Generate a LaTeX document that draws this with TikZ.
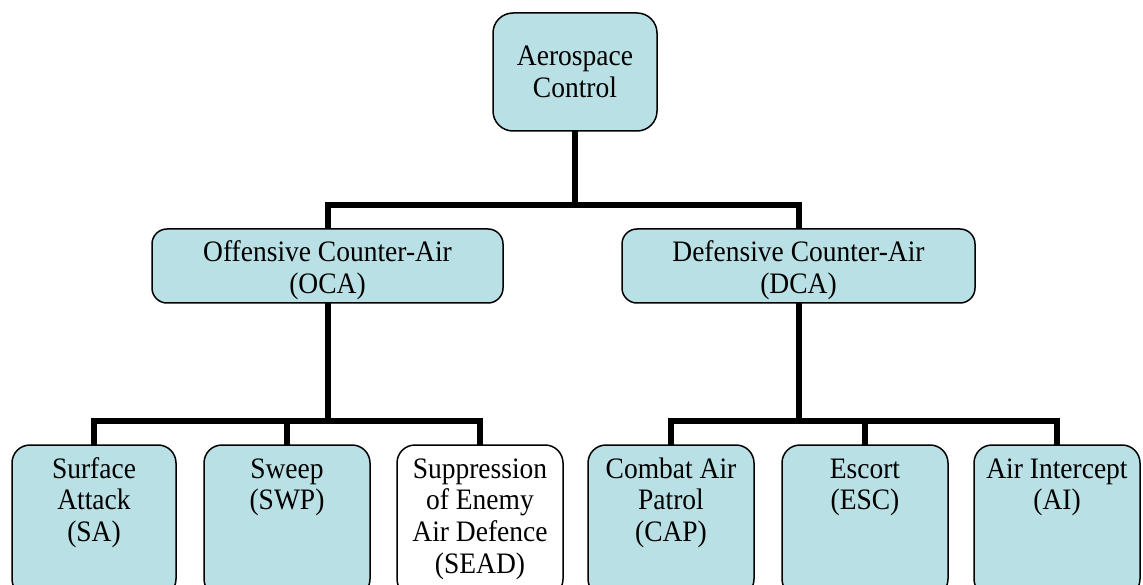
\documentclass[tikz,border=0pt]{standalone}
\usepackage{fontspec}
\usepackage{graphicx}
\setmainfont{Liberation Serif}
\definecolor{boxfill}{RGB}{185,224,228}
% text block: width, height, first-baseline offset from top, lines
% (lettering is set slightly tall)
\newcommand\boxlines[4]{\parbox[c][#2][t]{#1}{\centering
  \scalebox{1}[1.08]{\parbox[t]{#1}{\centering
    \rule{0pt}{\dimexpr#3*100/108\relax}#4}}}}
\tikzset{
  card/.style={draw=black, line width=1.5pt, inner sep=0pt, outer sep=0pt,
    rounded corners=#1, font=\fontsize{27.5}{29.6}\selectfont},
  card/.default=18pt,
  link/.style={line width=6pt, line join=miter, draw=black},
}
\begin{document}
\begin{tikzpicture}[x=1pt,y=-1pt]
\clip (0,0) rectangle (1143,585);
\fill[white] (0,0) rectangle (1143,585);

% root
\node[card=20pt, fill=boxfill] (root) at (575,72)
  {\boxlines{164pt}{118pt}{53pt}{Aerospace\\Control}};

% second level
\node[card=15pt, fill=boxfill] (oca) at (327.5,266)
  {\boxlines{351pt}{74pt}{33pt}{Offensive Counter-Air\\(OCA)}};
\node[card=15pt, fill=boxfill] (dca) at (798.5,266)
  {\boxlines{353pt}{74pt}{33pt}{Defensive Counter-Air\\(DCA)}};

% missions
\node[card, fill=boxfill] (sa) at (94,521)
  {\boxlines{164pt}{152pt}{33pt}{Surface\\Attack\\(SA)}};
\node[card, fill=boxfill] (swp) at (287,521)
  {\boxlines{166pt}{152pt}{33pt}{Sweep\\(SWP)}};
\node[card, fill=white] (sead) at (480,521)
  {\boxlines{166pt}{152pt}{33pt}{Suppression\\of Enemy\\Air Defence\\(SEAD)}};
\node[card, fill=boxfill] (cap) at (671,521)
  {\boxlines{166pt}{152pt}{33pt}{Combat Air\\Patrol\\(CAP)}};
\node[card, fill=boxfill] (esc) at (865,521)
  {\boxlines{166pt}{152pt}{33pt}{Escort\\(ESC)}};
\node[card, fill=boxfill] (ai) at (1057,521)
  {\boxlines{166pt}{152pt}{33pt}{Air Intercept\\(AI)}};

% junction points of the tree
\coordinate (j0) at (575,205);
\coordinate (j1) at (327.5,421);
\coordinate (j2) at (798.5,421);

\draw[link] (root.south) -- (j0);
\draw[link] (oca.north) |- (j0) -| (dca.north);

\draw[link] (oca.south) -- (j1);
\draw[link] (sa.north) |- (j1) -| (sead.north);
\draw[link] (swp.north) -- (swp.north |- j1);

\draw[link] (dca.south) -- (j2);
\draw[link] (cap.north) |- (j2) -| (ai.north);
\draw[link] (esc.north) -- (esc.north |- j2);
\end{tikzpicture}
\end{document}
